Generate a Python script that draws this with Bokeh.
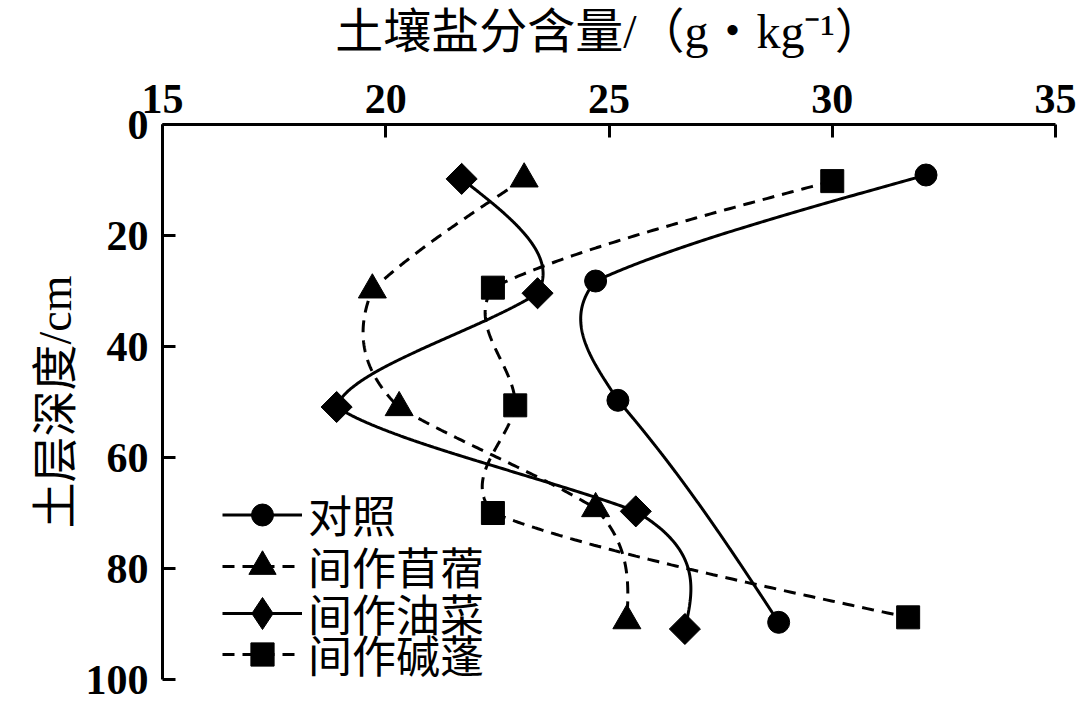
import numpy as np
from bokeh.plotting import figure
from bokeh.models import Range1d, FixedTicker, Legend, LegendItem
from bokeh.embed import file_html
from bokeh.resources import INLINE

# ---- data ----
series_names = ["对照", "间作苜蓿", "间作油菜", "间作碱蓬"]
depth_ck = [9.1, 28.2, 49.7, 89.7]
salt_ck = [32.1, 24.7, 25.2, 28.8]
depth_mx = [9.8, 29.8, 51.0, 69.2, 89.4]
salt_mx = [23.1, 19.7, 20.3, 24.7, 25.4]
depth_yc = [9.8, 30.4, 50.9, 69.7, 90.9]
salt_yc = [21.7, 23.4, 18.9, 25.6, 26.7]
depth_jp = [10.2, 29.4, 50.6, 70.0, 88.8]
salt_jp = [30.0, 22.4, 22.9, 22.4, 31.7]
x_ticks = [15, 20, 25, 30, 35]
y_ticks = [0, 20, 40, 60, 80, 100]
x_title = "土壤盐分含量/（g・kg⁻¹）"
y_title = "土层深度/cm"


def nat_coeffs(t, v):
    t = np.asarray(t, float); v = np.asarray(v, float)
    k = len(t); h = np.diff(t)
    A = np.zeros((k, k)); b = np.zeros(k)
    A[0, 0] = 1.0; A[-1, -1] = 1.0
    for i in range(1, k - 1):
        A[i, i - 1] = h[i - 1]; A[i, i] = 2 * (h[i - 1] + h[i]); A[i, i + 1] = h[i]
        b[i] = 3 * ((v[i + 1] - v[i]) / h[i] - (v[i] - v[i - 1]) / h[i - 1])
    c = np.linalg.solve(A, b)
    bb = (v[1:] - v[:-1]) / h - h * (2 * c[:-1] + c[1:]) / 3
    d = (c[1:] - c[:-1]) / (3 * h)
    return t, v, bb, c, d


def nat_eval(coef, tt):
    t, v, bb, c, d = coef
    idx = np.clip(np.searchsorted(t, tt, side="right") - 1, 0, len(t) - 2)
    dt = tt - t[idx]
    return v[idx] + bb[idx] * dt + c[idx] * dt ** 2 + d[idx] * dt ** 3


def smooth_line(dep, salt, w=0.6):
    """Smoothed connecting line (tensioned spline of salt as a function of depth)."""
    yy = np.linspace(dep[0], dep[-1], 400)
    xs = nat_eval(nat_coeffs(dep, salt), yy)
    xl = np.interp(yy, dep, salt)
    return w * xs + (1 - w) * xl, yy


FW, FH = 893, 555
p = figure(frame_width=FW, frame_height=FH,
           x_range=Range1d(15, 35), y_range=Range1d(100, 0),
           x_axis_location="above",
           output_backend="svg", toolbar_location=None,
           min_border_left=162, min_border_right=25,
           min_border_top=124, min_border_bottom=24)
p.grid.visible = False
p.outline_line_color = None

TICK_FONT = "Liberation Serif"
MIX_FONT = "Liberation Serif, Noto Sans CJK SC"

for ax in (p.xaxis[0], p.yaxis[0]):
    ax.axis_line_width = 3
    ax.major_tick_line_width = 3
    ax.major_tick_in = 13
    ax.major_tick_out = 0
    ax.minor_tick_line_color = None
    ax.major_label_text_font = TICK_FONT
    ax.major_label_text_font_style = "bold"
    ax.major_label_text_font_size = "42px"
    ax.major_label_text_color = "black"
    ax.axis_label_text_font = MIX_FONT
    ax.axis_label_text_font_style = "normal"
    ax.axis_label_text_color = "black"

p.xaxis[0].ticker = FixedTicker(ticks=x_ticks)
p.yaxis[0].ticker = FixedTicker(ticks=y_ticks)
p.xaxis[0].axis_label = x_title
p.xaxis[0].axis_label_text_font_size = "48px"
p.xaxis[0].major_label_standoff = 12
p.xaxis[0].axis_label_standoff = 24
p.yaxis[0].axis_label = y_title
p.yaxis[0].axis_label_text_font_size = "46px"
p.yaxis[0].major_label_standoff = 14
p.yaxis[0].axis_label_standoff = 2

specs = [
    # name, depth, salt, dash, marker, size, legend glyph height, legend y
    (series_names[0], depth_ck, salt_ck, "solid", "circle", 22, 55, 133),
    (series_names[1], depth_mx, salt_mx, "12 8", "triangle", 28, 68, 79),
    (series_names[2], depth_yc, salt_yc, "solid", "diamond", 30, 80, 26),
    (series_names[3], depth_jp, salt_jp, "12 8", "square", 23, 58, -7),
]

for name, dep, salt, dash, marker, size, gh, ly in specs:
    xs, ys = smooth_line(dep, salt)
    lr = p.line(xs, ys, line_color="black", line_width=3, line_dash=dash)
    sr = p.scatter(salt, dep, marker=marker, size=size,
                   fill_color="black", line_color="black", line_width=1)
    if marker == "diamond":
        # square turned 45 degrees, drawn over the diamond
        p.scatter(salt, dep, marker="square", size=22, angle=np.pi / 4,
                  fill_color="black", line_color="black", line_width=1)
    leg = Legend(items=[LegendItem(label=name, renderers=[lr, sr])],
                 location=(60, ly), glyph_width=80, glyph_height=gh,
                 padding=0, margin=0, label_standoff=6,
                 label_text_font=MIX_FONT, label_text_font_size="44px",
                 label_text_color="black",
                 border_line_alpha=0, background_fill_alpha=0)
    p.add_layout(leg)

open("out.html", "w").write(file_html(p, INLINE))
